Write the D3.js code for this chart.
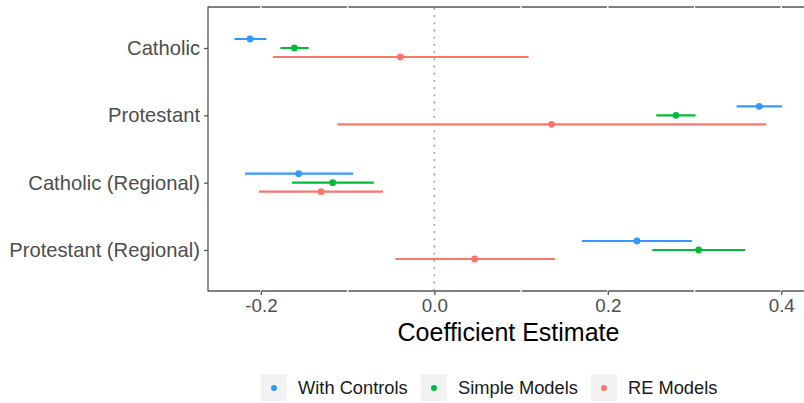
<!DOCTYPE html>
<html>
<head>
<meta charset="utf-8">
<script src="https://cdn.jsdelivr.net/npm/d3@7"></script>
<style>
  html, body { margin: 0; padding: 0; background: #fff; }
  svg { display: block; font-family: "Liberation Sans", Arial, sans-serif; }
</style>
</head>
<body>
<svg id="chart" width="804" height="403"></svg>
<script>
// ---- data ----
const categories = ["Catholic", "Protestant", "Catholic (Regional)", "Protestant (Regional)"];
const seriesNames = ["With Controls", "Simple Models", "RE Models"];
const seriesColors = ["#3399FF", "#00BA38", "#F8766D"];

// estimate, lower, upper per category
const withControlsEst = [-0.2125, 0.3746, -0.1564, 0.2336];
const withControlsLo  = [-0.2305, 0.3485, -0.2183, 0.1702];
const withControlsHi  = [-0.1937, 0.4008, -0.0937, 0.2970];

const simpleEst = [-0.1614, 0.2786, -0.1172, 0.3047];
const simpleLo  = [-0.1775, 0.2559, -0.1641, 0.2513];
const simpleHi  = [-0.1449, 0.3012, -0.0699, 0.3585];

const reEst = [-0.0392, 0.1352, -0.1306, 0.0465];
const reLo  = [-0.1860, -0.1118, -0.2021, -0.0450];
const reHi  = [0.1087, 0.3827, -0.0591, 0.1391];

const xTicks = [-0.2, 0.0, 0.2, 0.4];
const xGrid = [-0.2, -0.1, 0.1, 0.2, 0.3, 0.4];
const xDomain = [-0.261, 0.432];

const seriesData = [
  {est: withControlsEst, lo: withControlsLo, hi: withControlsHi},
  {est: simpleEst, lo: simpleLo, hi: simpleHi},
  {est: reEst, lo: reLo, hi: reHi}
];
const rows = [];
seriesData.forEach((s, si) => {
  categories.forEach((c, ci) => {
    rows.push({series: seriesNames[si], cat: c, est: s.est[ci], lo: s.lo[ci], hi: s.hi[ci]});
  });
});

// ---- layout ----
const panel = {left: 208, right: 809, top: 7, bottom: 291};
const svg = d3.select("#chart");

const x = d3.scaleLinear().domain(xDomain).range([panel.left, panel.right]);
const y = d3.scalePoint().domain(categories).range([48, 250]);
const dodge = d3.scalePoint().domain(seriesNames).range([-9, 9]);
const color = d3.scaleOrdinal().domain(seriesNames).range(seriesColors);

const axisColor = "#555555";
const textColor = "#4D4D4D";

// panel borders (top + left + bottom)
svg.append("line").attr("x1", panel.left).attr("x2", 804).attr("y1", panel.top).attr("y2", panel.top)
  .attr("stroke", axisColor).attr("stroke-width", 1.3);
svg.append("line").attr("x1", panel.left).attr("x2", panel.left).attr("y1", panel.top - 0.6).attr("y2", panel.bottom + 0.6)
  .attr("stroke", axisColor).attr("stroke-width", 1.3);
svg.append("line").attr("x1", panel.left).attr("x2", 804).attr("y1", panel.bottom).attr("y2", panel.bottom)
  .attr("stroke", axisColor).attr("stroke-width", 1.3);

// white vertical grid lines (visible only as gaps in the border lines)
svg.append("g").selectAll("line").data(xGrid).join("line")
  .attr("x1", d => x(d)).attr("x2", d => x(d))
  .attr("y1", panel.top - 2).attr("y2", panel.bottom + 1)
  .attr("stroke", "#ffffff").attr("stroke-width", 1.4);

// zero reference line
svg.append("line").attr("x1", x(0)).attr("x2", x(0)).attr("y1", panel.top + 1).attr("y2", panel.bottom)
  .attr("stroke", "#9a9a9a").attr("stroke-width", 1.6).attr("stroke-dasharray", "1.8,5.4");

// x axis
const xAxis = d3.axisBottom(x).tickValues(xTicks).tickFormat(d3.format(".1f")).tickSize(4).tickPadding(4);
const gx = svg.append("g").attr("transform", `translate(0,${panel.bottom})`).call(xAxis);
gx.select(".domain").remove();
gx.selectAll(".tick line").attr("stroke", axisColor).attr("stroke-width", 1.3);
gx.selectAll(".tick text").attr("fill", textColor).style("font-size", "18.8px")
  .style("font-family", "Liberation Sans, Arial, sans-serif").text(d => d3.format(".1f")(d).replace("−", "-"));

// y axis
const yAxis = d3.axisLeft(y).tickSize(4).tickPadding(4);
const gy = svg.append("g").attr("transform", `translate(${panel.left},0)`).call(yAxis);
gy.select(".domain").remove();
gy.selectAll(".tick line").attr("stroke", axisColor).attr("stroke-width", 1.3);
gy.selectAll(".tick text").attr("fill", textColor).style("font-size", "20.2px")
  .style("font-family", "Liberation Sans, Arial, sans-serif");

// error bars
const clip = svg.append("clipPath").attr("id", "pclip").append("rect")
  .attr("x", panel.left).attr("y", panel.top).attr("width", panel.right - panel.left).attr("height", panel.bottom - panel.top);
const marks = svg.append("g").attr("clip-path", "url(#pclip)");
marks.selectAll("line.err").data(rows).join("line").attr("class", "err")
  .attr("x1", d => x(d.lo)).attr("x2", d => x(d.hi))
  .attr("y1", d => y(d.cat) + dodge(d.series)).attr("y2", d => y(d.cat) + dodge(d.series))
  .attr("stroke", d => color(d.series)).attr("stroke-width", 2.1);
marks.selectAll("circle.pt").data(rows).join("circle").attr("class", "pt")
  .attr("cx", d => x(d.est)).attr("cy", d => y(d.cat) + dodge(d.series))
  .attr("r", 3.4).attr("fill", d => color(d.series));

// x title
svg.append("text").attr("x", (panel.left + panel.right) / 2).attr("y", 341)
  .attr("text-anchor", "middle").attr("fill", "#000").style("font-size", "25px")
  .text("Coefficient Estimate");

// legend
const legendKeyX = [261, 421, 591];
const lg = svg.append("g");
seriesNames.forEach((s, i) => {
  const g = lg.append("g").attr("transform", `translate(${legendKeyX[i]},374)`);
  g.append("rect").attr("width", 26).attr("height", 27).attr("fill", "#F2F2F2");
  g.append("circle").attr("cx", 13).attr("cy", 14).attr("r", 3).attr("fill", color(s));
  g.append("text").attr("x", 37).attr("y", 14).attr("dy", "0.35em")
    .attr("fill", "#1a1a1a").style("font-size", "18.3px").text(s);
});
</script>
</body>
</html>
